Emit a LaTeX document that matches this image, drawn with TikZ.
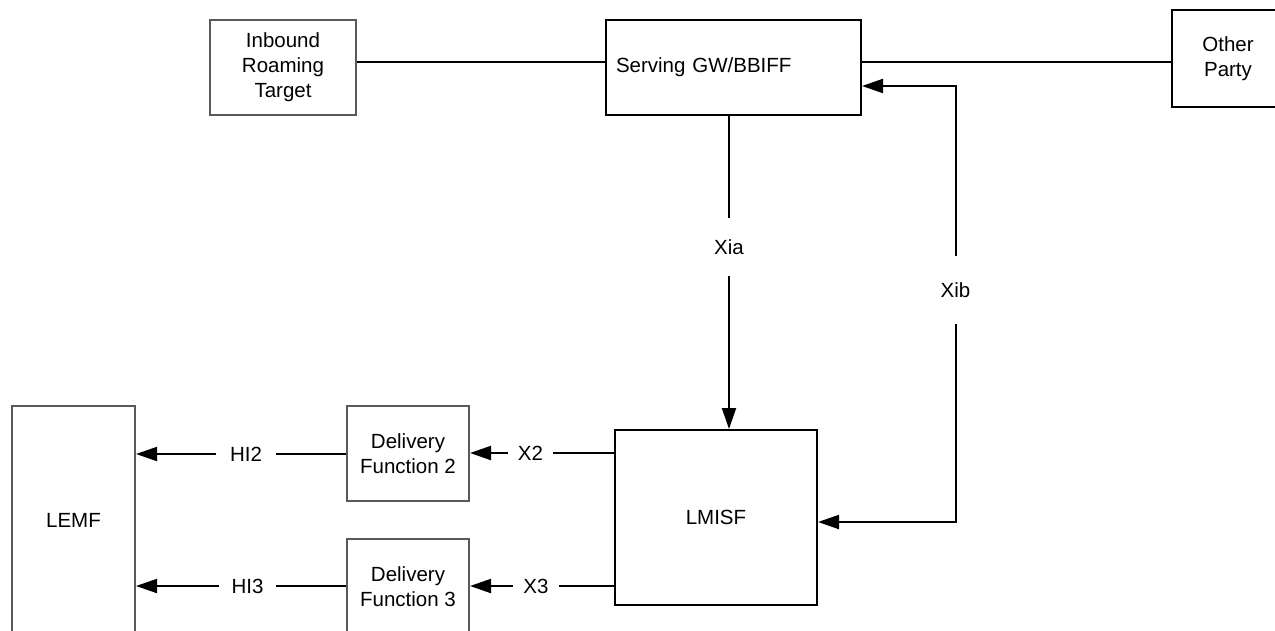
\documentclass[tikz,border=0pt]{standalone}
\usepackage{fontspec}
\setmainfont{Liberation Sans}
\usetikzlibrary{arrows.meta}
\definecolor{boxgray}{HTML}{595959}
\newcommand\dgfont{\fontsize{20.5}{25}\selectfont}
\begin{document}
\begin{tikzpicture}[x=1pt,y=-1pt,
  blk/.style={draw=black,line width=2pt,inner sep=0pt,align=center,font=\dgfont},
  gry/.style={blk,draw=boxgray},
  lab/.style={inner sep=0pt,font=\dgfont},
  ln/.style={line width=2pt},
  arr/.style={ln,-{Triangle[length=21pt,width=14pt]}}]
\useasboundingbox (0,0) rectangle (1275,630);
\clip (0,0) rectangle (1275,630);
% boxes
\node[gry,minimum width=146pt,minimum height=95pt] (inb) at (283,67.5) {Inbound\\Roaming\\Target};
\node[blk,minimum width=255pt,minimum height=95pt,text width=235pt,align=left] (srv) at (733.5,67.5) {Serving GW/BBIFF};
\node[blk,minimum width=112pt,minimum height=97pt] (oth) at (1228,58.5) {Other\\Party};
\node[gry,minimum width=123pt,minimum height=228pt] (lemf) at (73.5,520) {LEMF};
\node[gry,minimum width=122pt,minimum height=95pt] (df2) at (408,453.5) {Delivery\\Function 2};
\node[gry,minimum width=122pt,minimum height=95pt] (df3) at (408,586.5) {Delivery\\Function 3};
\node[blk,minimum width=202pt,minimum height=175pt] (lmisf) at (716,517.5) {LMISF};
% labels
\node[lab,minimum width=60pt] (hi2) at (246,454) {HI2};
\node[lab,minimum width=57pt] (hi3) at (247.5,586) {HI3};
\node[lab,minimum width=45pt] (x2) at (530.5,453) {X2};
\node[lab,minimum width=46pt] (x3) at (536,586) {X3};
\node[lab,minimum height=58pt] (xia) at (729,247) {Xia};
\node[lab,minimum height=68pt] (xib) at (955.5,290) {Xib};
% connectors
\draw[ln] ([yshift=5.5pt]inb.east) -- ([yshift=5.5pt]srv.west);
\draw[ln] ([yshift=5.5pt]srv.east) -- ([yshift=-3.5pt]oth.west);
\draw[ln] (srv.south -| xia) -- (xia.north);
\draw[arr] (xia.south) -- (lmisf.north -| xia);
\draw[arr] (xib.south) |- ([yshift=-4.5pt]lmisf.east);
\draw[arr] (xib.north) |- ([yshift=-18.5pt]srv.east);
\draw[ln] (lmisf.west |- x2) -- (x2.east);
\draw[arr] (x2.west) -- (df2.east |- x2);
\draw[ln] (lmisf.west |- x3) -- (x3.east);
\draw[arr] (x3.west) -- (df3.east |- x3);
\draw[ln] (df2.west |- hi2) -- (hi2.east);
\draw[arr] (hi2.west) -- (lemf.east |- hi2);
\draw[ln] (df3.west |- hi3) -- (hi3.east);
\draw[arr] (hi3.west) -- (lemf.east |- hi3);
\end{tikzpicture}
\end{document}
